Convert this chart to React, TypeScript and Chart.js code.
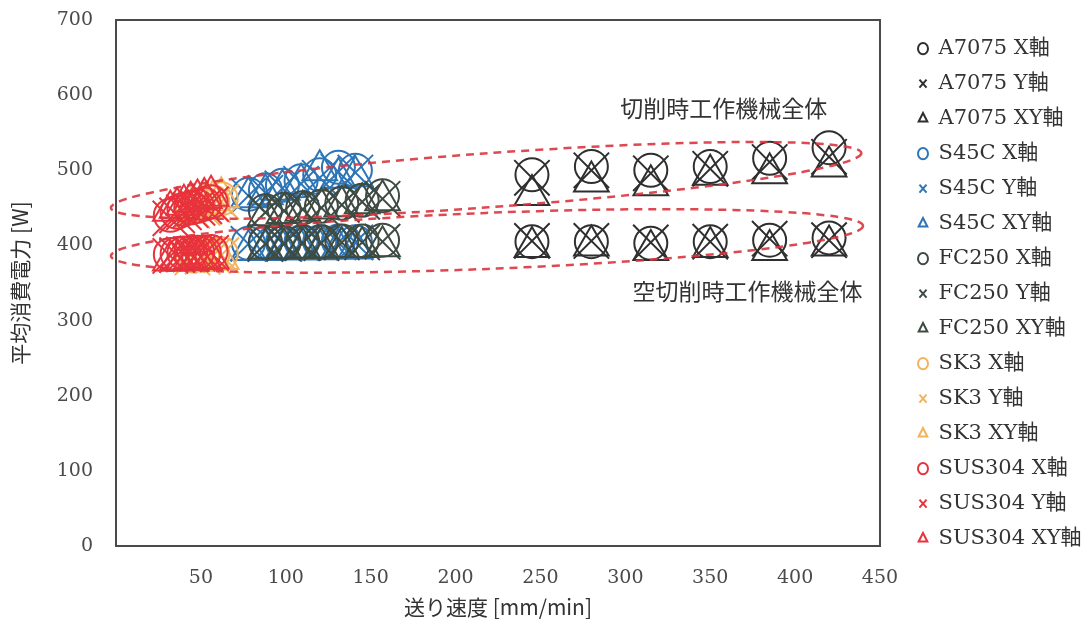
import { useEffect, useRef } from 'react';
import { Chart, registerables } from 'chart.js';

Chart.register(...registerables);

// ---- Feed rates [mm/min] per material ----
const A7075_FEED = [245, 280, 315, 350, 385, 420];
const S45C_FEED = [78, 88, 98, 109, 120, 131, 141];
const FC250_FEED = [88, 99, 110, 121, 133, 145, 157];
const SK3_FEED = [45, 51, 57, 62];
const SUS304_FEED = [32, 36, 40, 44, 48, 52, 56];

// ---- Average power [W]: cutting (upper group) and air cutting (lower group) ----
const A7075_X_CUT = [494, 505, 500, 505, 516, 530];
const A7075_X_AIR = [405, 405, 403, 405, 407, 410];
const A7075_Y_CUT = [490, 500, 496, 502, 511, 518];
const A7075_Y_AIR = [406, 406, 404, 405, 409, 407];
const A7075_XY_CUT = [467, 485, 480, 494, 496, 505];
const A7075_XY_AIR = [398, 400, 394, 398, 394, 400];

const S45C_X_CUT = [468, 474, 480, 486, 494, 504, 500];
const S45C_X_AIR = [403, 404, 404, 405, 405, 406, 405];
const S45C_Y_CUT = [466, 470, 476, 482, 490, 498, 497];
const S45C_Y_AIR = [402, 402, 403, 403, 404, 404, 404];
const S45C_XY_CUT = [464, 468, 474, 482, 500, 490, 492];
const S45C_XY_AIR = [394, 394, 395, 395, 395, 396, 396];

const FC250_X_CUT = [446, 448, 450, 452, 456, 460, 466];
const FC250_X_AIR = [404, 404, 405, 405, 406, 406, 407];
const FC250_Y_CUT = [444, 446, 448, 450, 454, 458, 462];
const FC250_Y_AIR = [402, 402, 403, 403, 404, 404, 405];
const FC250_XY_CUT = [440, 443, 446, 449, 452, 456, 460];
const FC250_XY_AIR = [396, 396, 397, 397, 398, 398, 399];

const SK3_X_CUT = [450, 455, 458, 462];
const SK3_X_AIR = [386, 387, 388, 389];
const SK3_Y_CUT = [446, 450, 454, 458];
const SK3_Y_AIR = [384, 385, 386, 387];
const SK3_XY_CUT = [452, 456, 460, 464];
const SK3_XY_AIR = [380, 381, 382, 382];

const SUS304_X_CUT = [440, 444, 448, 450, 452, 455, 458];
const SUS304_X_AIR = [388, 389, 390, 390, 391, 391, 392];
const SUS304_Y_CUT = [436, 440, 444, 447, 450, 452, 455];
const SUS304_Y_AIR = [386, 387, 388, 388, 389, 389, 390];
const SUS304_XY_CUT = [446, 450, 454, 458, 461, 463, 466];
const SUS304_XY_AIR = [380, 380, 381, 381, 382, 382, 383];

// ---- Axis ticks ----
const X_TICKS = [0, 50, 100, 150, 200, 250, 300, 350, 400, 450];
const Y_TICKS = [0, 100, 200, 300, 400, 500, 600, 700];

// ---- Labels ----
const X_TITLE = '送り速度 [mm/min]';
const Y_TITLE = '平均消費電力 [W]';
const NOTE_CUT = '切削時工作機械全体';
const NOTE_AIR = '空切削時工作機械全体';

const C_A7075 = '#2f2f2f';
const C_S45C = '#2e75b6';
const C_FC250 = '#3e4b42';
const C_SK3 = '#f2b35c';
const C_SUS304 = '#e8323c';

type S = { label: string; feed: number[]; cut: number[]; air: number[]; color: string; style: string };

const SERIES: S[] = [
  { label: 'A7075 X軸', feed: A7075_FEED, cut: A7075_X_CUT, air: A7075_X_AIR, color: C_A7075, style: 'circle' },
  { label: 'A7075 Y軸', feed: A7075_FEED, cut: A7075_Y_CUT, air: A7075_Y_AIR, color: C_A7075, style: 'crossRot' },
  { label: 'A7075 XY軸', feed: A7075_FEED, cut: A7075_XY_CUT, air: A7075_XY_AIR, color: C_A7075, style: 'triangle' },
  { label: 'S45C X軸', feed: S45C_FEED, cut: S45C_X_CUT, air: S45C_X_AIR, color: C_S45C, style: 'circle' },
  { label: 'S45C Y軸', feed: S45C_FEED, cut: S45C_Y_CUT, air: S45C_Y_AIR, color: C_S45C, style: 'crossRot' },
  { label: 'S45C XY軸', feed: S45C_FEED, cut: S45C_XY_CUT, air: S45C_XY_AIR, color: C_S45C, style: 'triangle' },
  { label: 'FC250 X軸', feed: FC250_FEED, cut: FC250_X_CUT, air: FC250_X_AIR, color: C_FC250, style: 'circle' },
  { label: 'FC250 Y軸', feed: FC250_FEED, cut: FC250_Y_CUT, air: FC250_Y_AIR, color: C_FC250, style: 'crossRot' },
  { label: 'FC250 XY軸', feed: FC250_FEED, cut: FC250_XY_CUT, air: FC250_XY_AIR, color: C_FC250, style: 'triangle' },
  { label: 'SK3 X軸', feed: SK3_FEED, cut: SK3_X_CUT, air: SK3_X_AIR, color: C_SK3, style: 'circle' },
  { label: 'SK3 Y軸', feed: SK3_FEED, cut: SK3_Y_CUT, air: SK3_Y_AIR, color: C_SK3, style: 'crossRot' },
  { label: 'SK3 XY軸', feed: SK3_FEED, cut: SK3_XY_CUT, air: SK3_XY_AIR, color: C_SK3, style: 'triangle' },
  { label: 'SUS304 X軸', feed: SUS304_FEED, cut: SUS304_X_CUT, air: SUS304_X_AIR, color: C_SUS304, style: 'circle' },
  { label: 'SUS304 Y軸', feed: SUS304_FEED, cut: SUS304_Y_CUT, air: SUS304_Y_AIR, color: C_SUS304, style: 'crossRot' },
  { label: 'SUS304 XY軸', feed: SUS304_FEED, cut: SUS304_XY_CUT, air: SUS304_XY_AIR, color: C_SUS304, style: 'triangle' },
];

const RADIUS: Record<string, number> = { circle: 16.5, crossRot: 25, triangle: 20 };

// dashed ellipses (tips in data coordinates, half-thickness in px)
const ELLIPSES = [
  { from: [-3, 450], to: [439, 523], half: 27 },
  { from: [-3, 386], to: [440, 426], half: 28 },
];
const NOTES = [
  { text: NOTE_CUT, x: 358, y: 582 },
  { text: NOTE_AIR, x: 372, y: 339 },
];

const decor = {
  id: 'decor',
  beforeDatasetsDraw(chart: any) {
    const { ctx, chartArea: a } = chart;
    ctx.save();
    ctx.strokeStyle = '#4a4a4a';
    ctx.lineWidth = 2;
    ctx.strokeRect(a.left, a.top, a.right - a.left, a.bottom - a.top);
    ctx.restore();
  },
  afterDatasetsDraw(chart: any) {
    const { ctx, scales } = chart;
    const xs = scales.x;
    const ys = scales.y;
    ctx.save();
    ctx.strokeStyle = 'rgba(218,52,62,0.9)';
    ctx.lineWidth = 2.5;
    ctx.setLineDash([8, 6]);
    for (const e of ELLIPSES) {
      const x1 = xs.getPixelForValue(e.from[0]);
      const y1 = ys.getPixelForValue(e.from[1]);
      const x2 = xs.getPixelForValue(e.to[0]);
      const y2 = ys.getPixelForValue(e.to[1]);
      const cx = (x1 + x2) / 2;
      const cy = (y1 + y2) / 2;
      const ra = Math.hypot(x2 - x1, y2 - y1) / 2;
      const ang = Math.atan2(y2 - y1, x2 - x1);
      ctx.beginPath();
      ctx.ellipse(cx, cy, ra, e.half, ang, 0, Math.PI * 2);
      ctx.stroke();
    }
    ctx.setLineDash([]);
    ctx.fillStyle = '#333333';
    ctx.font = '23px "Noto Sans CJK JP", sans-serif';
    ctx.textAlign = 'center';
    ctx.textBaseline = 'middle';
    for (const n of NOTES) {
      ctx.fillText(n.text, xs.getPixelForValue(n.x), ys.getPixelForValue(n.y));
    }
    ctx.restore();
  },
};

export default function App() {
  const ref = useRef<HTMLCanvasElement | null>(null);
  useEffect(() => {
    if (!ref.current) return;
    const datasets = SERIES.map((s, i) => ({
      label: s.label,
      data: s.feed.map((f, k) => ({ x: f, y: s.cut[k] })).concat(s.feed.map((f, k) => ({ x: f, y: s.air[k] }))),
      pointStyle: s.style,
      pointRadius: RADIUS[s.style],
      pointHoverRadius: RADIUS[s.style],
      borderColor: s.color,
      backgroundColor: 'rgba(0,0,0,0)',
      pointBorderWidth: 2,
      borderWidth: 2,
      showLine: false,
      order: 100 - i,
    }));
    const chart = new Chart(ref.current, {
      type: 'scatter',
      data: { datasets },
      plugins: [decor],
      options: {
        animation: false,
        responsive: true,
        maintainAspectRatio: false,
        layout: { autoPadding: false, padding: { top: 20, right: 0, bottom: 0, left: 0 } },
        plugins: {
          tooltip: { enabled: false },
          legend: {
            position: 'right',
            align: 'start',
            maxWidth: 182,
            title: { display: true, text: '', font: { size: 1 }, padding: { top: 0, bottom: 3 } },
            labels: {
              usePointStyle: true,
              boxHeight: 8,
              pointStyleWidth: 10,
              padding: 14,
              color: '#333333',
              font: { family: '"DejaVu Serif", "Noto Sans CJK JP", serif', size: 21 },
              sort: (a: any, b: any) => a.datasetIndex - b.datasetIndex,
            },
          },
        },
        scales: {
          x: {
            type: 'linear',
            min: 0,
            max: 450,
            afterBuildTicks: (s: any) => { s.ticks = X_TICKS.map((v) => ({ value: v })); },
            afterFit: (s: any) => { s.height = 80; },
            grid: { display: false, drawTicks: false },
            border: { display: false },
            ticks: {
              padding: 21,
              color: '#4a4a4a',
              font: { family: '"DejaVu Serif", serif', size: 19 },
              callback: (v: any) => (v === 0 ? '' : String(v)),
            },
            title: {
              display: true,
              text: X_TITLE,
              color: '#333333',
              font: { family: '"Noto Sans CJK JP", sans-serif', size: 21 },
              padding: { top: 0, bottom: 6 },
            },
          },
          y: {
            type: 'linear',
            min: 0,
            max: 700,
            afterBuildTicks: (s: any) => { s.ticks = Y_TICKS.map((v) => ({ value: v })); },
            afterFit: (s: any) => { s.width = 116; s.paddingTop = 0; s.paddingBottom = 0; },
            grid: { display: false, drawTicks: false },
            border: { display: false },
            ticks: {
              padding: 23,
              color: '#4a4a4a',
              font: { family: '"DejaVu Serif", serif', size: 19 },
            },
            title: {
              display: true,
              text: Y_TITLE,
              color: '#333333',
              font: { family: '"Noto Sans CJK JP", sans-serif', size: 21 },
              padding: { top: 7, bottom: 0 },
            },
          },
          yR: {
            type: 'linear',
            position: 'right',
            display: true,
            afterFit: (s: any) => { s.width = 24; s.paddingTop = 0; s.paddingBottom = 0; },
            grid: { display: false, drawTicks: false },
            border: { display: false },
            ticks: { display: false },
          },
        },
      } as any,
    });
    return () => chart.destroy();
  }, []);
  return (
    <div style={{ position: 'fixed', left: 0, top: 0, width: 1086, height: 626, background: '#ffffff' }}>
      <canvas ref={ref} />
    </div>
  );
}
